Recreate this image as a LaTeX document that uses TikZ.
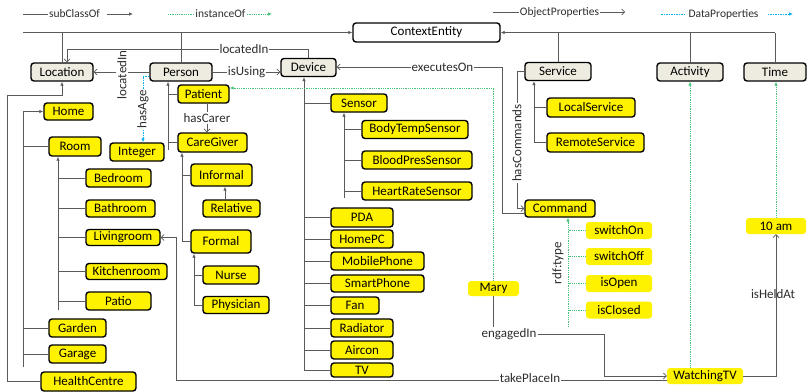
\documentclass[tikz,border=0pt]{standalone}
\usepackage{fontspec}
\setmainfont{Carlito}
\usetikzlibrary{arrows.meta}
\definecolor{clsgray}{RGB}{238,236,225}
\definecolor{instgreen}{RGB}{70,195,120}
\definecolor{datablue}{RGB}{0,176,240}
\definecolor{linegray}{RGB}{90,90,90}
\definecolor{txtgray}{RGB}{45,45,45}
\begin{document}
\begin{tikzpicture}[x=1pt,y=-1pt,
  base/.style={rounded corners=3pt, inner sep=0pt, font=\fontsize{13}{15}\selectfont, text=black},
  cls/.style={base, draw=black, line width=1.4pt, fill=clsgray},
  topcls/.style={base, draw=black, line width=1.4pt, fill=white},
  ycls/.style={base, draw=black, line width=1.4pt, fill=yellow},
  inst/.style={base, fill=yellow},
  wh/.style 2 args={minimum width=#1pt, minimum height=#2pt},
  lbl/.style={font=\fontsize{13}{15}\selectfont, text=txtgray, inner sep=1pt},
  lblw/.style={lbl, fill=white},
  leg/.style={font=\fontsize{11.5}{13}\selectfont, text=txtgray, inner sep=1pt},
  conn/.style={draw=linegray, line width=0.7pt},
  sub/.style={conn, -{Latex[length=4pt,width=3.5pt]}},
  obj/.style={conn, -{Straight Barb[length=3pt,width=6pt]}},
  instl/.style={draw=instgreen, line width=0.8pt, dash pattern=on 1pt off 0.8pt},
  insta/.style={instl, -{Latex[length=4pt,width=3.5pt]}},
  datl/.style={draw=datablue, line width=0.8pt, dash pattern=on 1.5pt off 1pt},
  dat/.style={datl, -{Latex[length=4pt,width=3.5pt]}},
]
\useasboundingbox (0,0) rectangle (808,391);

% ---------- nodes ----------
\node[topcls, wh={147}{19}] (ContextEntity) at (426.5,32.5) {ContextEntity};
\node[cls, wh={62}{18}] (Location) at (62,72) {Location};
\node[cls, wh={62}{18}] (Person) at (181,72) {Person};
\node[cls, wh={55}{18}] (Device) at (308.5,67.5) {Device};
\node[cls, wh={66}{18}] (Service) at (558,71.5) {Service};
\node[cls, wh={66}{18}] (Activity) at (690,72) {Activity};
\node[cls, wh={62}{18}] (Time) at (775,72) {Time};

\node[ycls, wh={49}{17}] (Home) at (68.5,111.5) {Home};
\node[ycls, wh={52}{19}] (Room) at (75,146.5) {Room};
\node[ycls, wh={65}{18}] (Bedroom) at (118.5,178) {Bedroom};
\node[ycls, wh={69}{17}] (Bathroom) at (120.5,208.5) {Bathroom};
\node[ycls, wh={74}{16}] (Livingroom) at (123,237.5) {Livingroom};
\node[ycls, wh={81}{16}] (Kitchenroom) at (126.5,271.5) {Kitchenroom};
\node[ycls, wh={65}{18}] (Patio) at (118.5,301) {Patio};
\node[ycls, wh={57}{18}] (Garden) at (77.5,328) {Garden};
\node[ycls, wh={57}{18}] (Garage) at (77.5,354) {Garage};
\node[ycls, wh={95}{19}] (HealthCentre) at (88.5,381.5) {HealthCentre};

\node[ycls, wh={54}{18}] (Integer) at (137,152) {Integer};
\node[ycls, wh={51}{18}] (Patient) at (203.5,94) {Patient};
\node[ycls, wh={69}{19}] (CareGiver) at (212.5,142.5) {CareGiver};
\node[ycls, wh={61}{22}] (Informal) at (221.5,175) {Informal};
\node[ycls, wh={57}{17}] (Relative) at (231.5,208.5) {Relative};
\node[ycls, wh={60}{23}] (Formal) at (221,241.5) {Formal};
\node[ycls, wh={56}{18}] (Nurse) at (231,275) {Nurse};
\node[ycls, wh={66}{17}] (Physician) at (236,305) {Physician};

\node[ycls, wh={56}{18}] (Sensor) at (359,103) {Sensor};
\node[ycls, wh={106}{18}] (BodyTempSensor) at (415,129.5) {BodyTempSensor};
\node[ycls, wh={110}{18}] (BloodPresSensor) at (417,160) {BloodPresSensor};
\node[ycls, wh={110}{18}] (HeartRateSensor) at (417,191) {HeartRateSensor};
\node[ycls, wh={62}{19}] (PDA) at (362,217.5) {PDA};
\node[ycls, wh={62}{18}] (HomePC) at (362,239) {HomePC};
\node[ycls, wh={93}{18}] (MobilePhone) at (377.5,261) {MobilePhone};
\node[ycls, wh={93}{17}] (SmartPhone) at (377.5,283.5) {SmartPhone};
\node[ycls, wh={48}{17}] (Fan) at (355,305.5) {Fan};
\node[ycls, wh={62}{18}] (Radiator) at (362,328) {Radiator};
\node[ycls, wh={62}{18}] (Aircon) at (362,350) {Aircon};
\node[ycls, wh={62}{14}] (TV) at (362,370) {TV};

\node[ycls, wh={88}{19}] (LocalService) at (591,107.5) {LocalService};
\node[ycls, wh={97}{19}] (RemoteService) at (595.5,142.5) {RemoteService};
\node[ycls, wh={70}{17}] (Command) at (560,208.5) {Command};

\node[inst, wh={51}{15}] (Mary) at (493.5,288.5) {Mary};
\node[inst, wh={66}{17}] (switchOn) at (619,230.5) {switchOn};
\node[inst, wh={66}{17}] (switchOff) at (619,256.5) {switchOff};
\node[inst, wh={66}{17}] (isOpen) at (619,283.5) {isOpen};
\node[inst, wh={66}{17}] (isClosed) at (619,310) {isClosed};
\node[inst, wh={76}{16}] (WatchingTV) at (705,376) {WatchingTV};
\node[inst, wh={60}{16}] (tenam) at (776,226) {10 am};

% ---------- legend ----------
\node[leg] (lgSub) at (74.5,14) {subClassOf};
\coordinate (lgSa) at (23,14); \coordinate (lgSb) at (133,14);
\draw[conn] (lgSa) -- (lgSub.west);
\draw[sub] ([xshift=6pt]lgSub.east) -- (lgSb);
\node[leg] (lgInst) at (220.5,14) {instanceOf};
\coordinate (lgIa) at (168,14); \coordinate (lgIb) at (272,14);
\draw[instl] (lgIa) -- (lgInst.west);
\draw[insta] (lgInst.east) -- (lgIb);
\node[leg] (lgObj) at (559.5,12) {ObjectProperties};
\coordinate (lgOa) at (493,12); \coordinate (lgOb) at (625,12);
\draw[conn] (lgOa) -- (lgObj.west);
\draw[obj] (lgObj.east) -- (lgOb);
\node[leg] (lgDat) at (723.5,14) {DataProperties};
\coordinate (lgDa) at (661,14); \coordinate (lgDb) at (793,14);
\draw[datl] (lgDa) -- ([xshift=-2pt]lgDat.west);
\draw[dat] ([xshift=8pt]lgDat.east) -- (lgDb);

% ---------- subclass links ----------
\coordinate (tl) at (23,32.5);
\coordinate (tr) at (775,32.5);
\draw[sub] (tl) -- (ContextEntity.west);
\draw[sub] (tr) -- (ContextEntity.east);
\foreach \n in {Location,Person,Service,Activity,Time} \draw[conn] (\n.north) -- (\n.north |- tl);

\coordinate (lx) at (7,95);
\draw[sub] (HealthCentre.west) -| (lx) -| (Location.south);
\coordinate (hb) at (23,367);
\draw[sub] (hb) |- (Home.west);
\foreach \n in {Room,Garden,Garage} \draw[conn] (\n.west) -- (\n.west -| hb);
\coordinate (rb) at (58,310);
\draw[sub] (rb) -- (rb |- Room.south);
\foreach \n in {Bedroom,Bathroom,Livingroom,Kitchenroom,Patio} \draw[conn] (\n.west) -- (\n.west -| rb);

\coordinate (pb) at (168,150);
\draw[sub] (pb) -- (pb |- Person.south);
\draw[conn] (Patient.west) -- (Patient.west -| pb);
\draw[conn] (CareGiver.west) -- (CareGiver.west -| pb);
\coordinate (cb) at (182,242);
\draw[sub] (cb) -- (cb |- CareGiver.south);
\draw[conn] (Informal.west) -- (Informal.west -| cb);
\draw[conn] (Formal.west) -- (Formal.west -| cb);
\coordinate (rl) at (225,0);
\draw[sub] (Relative.north -| rl) -- (Informal.south -| rl);
\coordinate (fb) at (194,305);
\draw[sub] (fb) -- (fb |- Formal.south);
\draw[conn] (Nurse.west) -- (Nurse.west -| fb);
\draw[conn] (Physician.west) -- (Physician.west -| fb);

\coordinate (db) at (304,370);
\draw[sub] (db) -- (db |- Device.south);
\foreach \n in {Sensor,PDA,HomePC,MobilePhone,SmartPhone,Fan,Radiator,Aircon,TV} \draw[conn] (\n.west) -- (\n.west -| db);
\coordinate (sb) at (344,198);
\draw[sub] (sb) -- (sb |- Sensor.south);
\foreach \n in {BodyTempSensor,BloodPresSensor,HeartRateSensor} \draw[conn] (\n.west) -- (\n.west -| sb);

\coordinate (svb) at (534,0);
\draw[sub] (RemoteService.west) -| (svb |- Service.south);
\draw[conn] (LocalService.west) -- (LocalService.west -| svb);

% ---------- object properties ----------
\coordinate (dl) at (67,49);
\draw[obj] (Device.north) |- (dl) -- (dl |- Location.north);
\node[lblw] at (244,49) {locatedIn};

\draw[obj] (Person.west) -- (Location.east);
\node[lblw, rotate=90] at (122,75) {locatedIn};

\draw[obj] (Person.east) -- node[lblw]{isUsing} (Person.east -| Device.west);

\draw[dat] (Person.west |- 0,76) -| (143,0 |- Integer.north) node[lblw, rotate=90, pos=0.75]{hasAge};

\coordinate (hcx) at (207,0);
\draw[obj] (Patient.south -| hcx) -- (CareGiver.north -| hcx) node[midway,lblw]{hasCarer};

\coordinate (ex) at (502,67);
\draw[obj] ([yshift=-4.5pt]Command.west) -| (ex) -- node[lblw,pos=0.36]{executesOn} (ex -| Device.east);

\coordinate (hcm) at (517,0);
\draw[obj] (Service.west) -| (hcm |- Command.west) -- (Command.west);
\node[lblw, rotate=90] at (517,143) {hasCommands};

\node[lbl] (engT) at (509,334) {engagedIn};
\draw[conn] (Mary.south) -- (Mary.south |- engT.north);
\coordinate (eg) at (604,376);
\draw[obj] (engT.east) -| (eg) -- (WatchingTV.west);

\coordinate (tp) at (176,380);
\draw[obj] ([yshift=-4pt]WatchingTV.west) -- (tp) |- (Livingroom.east);
\node[lblw] at (530,378) {takePlaceIn};

\draw[obj] (WatchingTV.east) -| (tenam.south);
\node[lbl] at (773,294) {isHeldAt};

% ---------- instances ----------
\draw[insta] (Mary.north) |- ([yshift=6pt]Patient.east);
\draw[insta] (Activity.south |- WatchingTV.north) -- (Activity.south);
\draw[insta] (tenam.north) -- (tenam.north |- Time.south);
\coordinate (ci) at (568,327);
\draw[insta] (ci) -- (ci |- Command.south);
\foreach \n in {switchOn,switchOff,isOpen,isClosed} \draw[instl] (\n.west) -- (\n.west -| ci);
\node[lbl, rotate=90] at (558,263) {rdf:type};
\end{tikzpicture}
\end{document}
